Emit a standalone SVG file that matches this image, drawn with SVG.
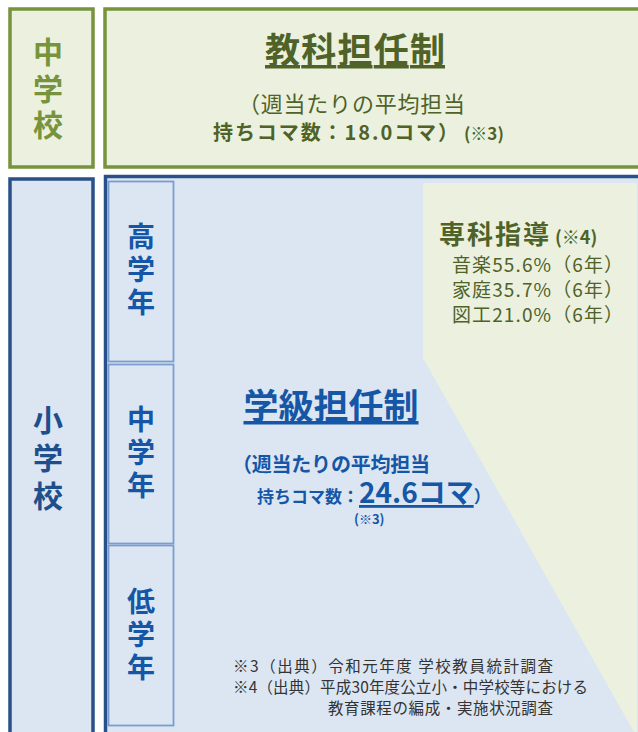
<svg xmlns="http://www.w3.org/2000/svg" width="638" height="732" viewBox="0 0 638 732">
<style>
text{font-family:"Noto Sans CJK JP","Noto Sans",sans-serif}
.gbox{fill:#EBF1DE;stroke:#77933C;stroke-width:3.5}
.bbox{fill:#DCE6F2;stroke:#2A5089;stroke-width:3.5}
.sub{fill:#DCE6F2;stroke:#7A9CCF;stroke-width:1.8}
.vt{writing-mode:vertical-rl;font-weight:bold}
.vg{font-size:30px;fill:#77933C;letter-spacing:6.5px}
.vb{font-size:30px;fill:#1F4E8C;letter-spacing:8px}
.vs{font-size:28px;fill:#1556A6;letter-spacing:5px}
.dg{fill:#4F6228}
.bl{fill:#1556A6}
.fn{font-size:15.5px;fill:#333333}
</style>
<rect width="638" height="732" fill="#FFFFFF"/>
<g id="jhs-label">
<rect class="gbox" x="10" y="9" width="83" height="158"/>
<text class="vt vg" x="48" y="37">中学校</text>
</g>
<g id="jhs-system">
<rect class="gbox" x="105" y="9" width="540" height="158"/>
<text class="dg" x="265" y="63" font-size="35" font-weight="bold" textLength="180" lengthAdjust="spacing" text-decoration="underline">教科担任制</text>
<text class="dg" x="238" y="112" font-size="22" textLength="227" lengthAdjust="spacing">（週当たりの平均担当</text>
<text class="dg" x="213" y="140" font-size="20" font-weight="bold"><tspan textLength="245" lengthAdjust="spacing">持ちコマ数：18.0コマ）</tspan><tspan font-size="17" dx="4">(※3)</tspan></text>
</g>
<g id="es-label">
<rect class="bbox" x="10" y="179" width="83" height="560"/>
<text class="vt vb" x="48" y="405">小学校</text>
</g>
<g id="es-system">
<rect class="bbox" x="105.5" y="176.5" width="540" height="570"/>
<path d="M423,186 Q423,183 426,183 L637,183 L637,732 L634,732 L423,358 Z" fill="#EBF1DE"/>
</g>
<g id="upper-grade">
<rect class="sub" x="108.5" y="181.5" width="65" height="180"/>
<text class="vt vs" x="141" y="222">高学年</text>
</g>
<g id="middle-grade">
<rect class="sub" x="108.5" y="364.5" width="65" height="179"/>
<text class="vt vs" x="141" y="405">中学年</text>
</g>
<g id="lower-grade">
<rect class="sub" x="108.5" y="545.5" width="65" height="180"/>
<text class="vt vs" x="141" y="587">低学年</text>
</g>
<g id="specialist">
<text class="dg" x="439" y="244" font-size="26" font-weight="bold"><tspan textLength="110" lengthAdjust="spacing">専科指導</tspan><tspan font-size="18" dx="4">(※4)</tspan></text>
<text class="dg" x="452" y="272" font-size="19" textLength="171" lengthAdjust="spacing">音楽55.6%（6年）</text>
<text class="dg" x="452" y="297" font-size="19" textLength="171" lengthAdjust="spacing">家庭35.7%（6年）</text>
<text class="dg" x="452" y="322" font-size="19" textLength="171" lengthAdjust="spacing">図工21.0%（6年）</text>
</g>
<g id="homeroom">
<text class="bl" x="331" y="419" font-size="35" font-weight="bold" text-anchor="middle" text-decoration="underline">学級担任制</text>
<text class="bl" x="232" y="472" font-size="20" font-weight="bold" textLength="198" lengthAdjust="spacing">（週当たりの平均担当</text>
<text class="bl" x="257" y="503" font-size="17" font-weight="bold">持ちコマ数：<tspan font-size="28" text-decoration="underline">24.6コマ</tspan><tspan font-size="17">）</tspan></text>
<text class="bl" x="354" y="524" font-size="13" font-weight="bold">(※3)</text>
</g>
<g id="notes">
<text class="fn" x="233" y="672" textLength="320" lengthAdjust="spacing">※3（出典）令和元年度 学校教員統計調査</text>
<text class="fn" x="233" y="693" textLength="355" lengthAdjust="spacing">※4（出典）平成30年度公立小・中学校等における</text>
<text class="fn" x="328" y="714" textLength="225" lengthAdjust="spacing">教育課程の編成・実施状況調査</text>
</g>
<g id="connectors"></g>
</svg>
